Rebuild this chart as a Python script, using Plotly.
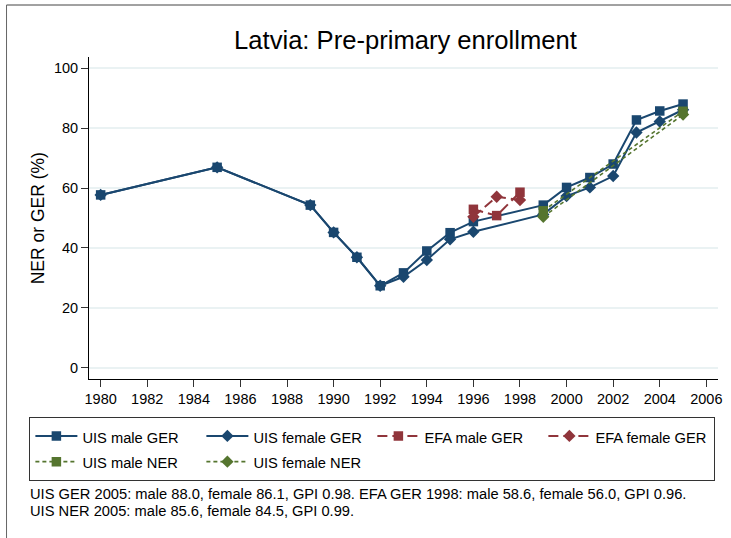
import plotly.graph_objects as go

# ---- data ----
uis_years = [1980, 1985, 1989, 1990, 1991, 1992, 1993, 1994, 1995, 1996,
             1999, 2000, 2001, 2002, 2003, 2004, 2005]
uis_male_ger = [57.7, 66.9, 54.3, 45.2, 36.9, 27.4, 31.7, 39.0, 45.1, 48.8,
                54.3, 60.2, 63.5, 68.0, 82.7, 85.7, 88.0]
uis_female_ger = [57.7, 66.9, 54.3, 45.2, 36.9, 27.4, 30.4, 36.0, 42.9, 45.4,
                  51.2, 57.3, 60.2, 64.0, 78.5, 82.2, 86.1]

efa_years = [1996, 1997, 1998]
efa_male_ger = [52.9, 50.8, 58.6]
efa_female_ger = [50.4, 57.1, 56.0]

ner_years = [1999, 2005]
uis_male_ner = [52.4, 85.6]
uis_female_ner = [50.4, 84.5]

x_ticks = list(range(1980, 2007, 2))
y_ticks = [0, 20, 40, 60, 80, 100]

title_text = "Latvia: Pre-primary enrollment"
y_title = "NER or GER (%)"
note_lines = [
    "UIS GER 2005: male 88.0, female 86.1, GPI 0.98. EFA GER 1998: male 58.6, female 56.0, GPI 0.96.",
    "UIS NER 2005: male 85.6, female 84.5, GPI 0.99.",
]

# ---- styling ----
NAVY = "#1a476f"
MAROON = "#90353b"
GREEN = "#55752f"
FONT = "Liberation Sans, Arial, sans-serif"

W, H = 731, 538
ML, MR, MT, MB = 89, 9, 57, 159
PW = W - ML - MR
PH = H - MT - MB


def px_x(px):
    return (px - ML) / PW


def px_y(py):
    return (H - MB - py) / PH


def lname(s):
    return "<span style='font-size:14.7px'>" + s + "</span>"


fig = go.Figure()

fig.add_trace(go.Scatter(
    x=uis_years, y=uis_male_ger, name=lname("UIS male GER"), mode="lines+markers",
    line=dict(color=NAVY, width=2),
    marker=dict(symbol="square", size=9.5, color=NAVY)))
fig.add_trace(go.Scatter(
    x=uis_years, y=uis_female_ger, name=lname("UIS female GER"), mode="lines+markers",
    line=dict(color=NAVY, width=2),
    marker=dict(symbol="diamond", size=9.5, color=NAVY)))
fig.add_trace(go.Scatter(
    x=efa_years, y=efa_male_ger, name=lname("EFA male GER"), mode="lines+markers",
    line=dict(color=MAROON, width=2, dash="10px,5px"),
    marker=dict(symbol="square", size=9.5, color=MAROON)))
fig.add_trace(go.Scatter(
    x=efa_years, y=efa_female_ger, name=lname("EFA female GER"), mode="lines+markers",
    line=dict(color=MAROON, width=2, dash="10px,5px"),
    marker=dict(symbol="diamond", size=9.5, color=MAROON)))
fig.add_trace(go.Scatter(
    x=ner_years, y=uis_male_ner, name=lname("UIS male NER"), mode="lines+markers",
    line=dict(color=GREEN, width=1.6, dash="4px,3px"),
    marker=dict(symbol="square", size=9.5, color=GREEN)))
fig.add_trace(go.Scatter(
    x=ner_years, y=uis_female_ner, name=lname("UIS female NER"), mode="lines+markers",
    line=dict(color=GREEN, width=1.6, dash="4px,3px"),
    marker=dict(symbol="diamond", size=9.5, color=GREEN)))

annotations = [
    dict(text=y_title, textangle=-90, xref="paper", yref="paper",
         x=px_x(38), y=px_y(218), xanchor="center", yanchor="middle",
         showarrow=False, font=dict(family=FONT, size=17.5, color="#000")),
    dict(text=note_lines[0], xref="paper", yref="paper",
         x=px_x(28), y=px_y(494), xanchor="left", yanchor="middle",
         showarrow=False, font=dict(family=FONT, size=14.7, color="#000")),
    dict(text=note_lines[1], xref="paper", yref="paper",
         x=px_x(28), y=px_y(511), xanchor="left", yanchor="middle",
         showarrow=False, font=dict(family=FONT, size=14.7, color="#000")),
]

shapes = [
    dict(type="line", xref="paper", yref="paper",
         x0=px_x(6), x1=px_x(740), y0=px_y(5), y1=px_y(5),
         line=dict(color="#444", width=1)),
    dict(type="line", xref="paper", yref="paper",
         x0=px_x(6), x1=px_x(6), y0=px_y(5), y1=px_y(545),
         line=dict(color="#666", width=1)),
]

fig.update_layout(
    width=W, height=H,
    margin=dict(l=ML, r=MR, t=MT, b=MB),
    paper_bgcolor="white", plot_bgcolor="white",
    font=dict(family=FONT, color="#000"),
    title=dict(text=title_text, x=px_x(407.5), xanchor="center", xref="paper",
               y=1 - 40 / H, yanchor="middle", yref="container",
               font=dict(family=FONT, size=25.6, color="#000")),
    showlegend=True,
    legend=dict(orientation="h", x=px_x(29), xanchor="left",
                y=px_y(417), yanchor="top",
                bgcolor="white", bordercolor="#333", borderwidth=1,
                font=dict(family=FONT, size=17.5, color="#000"),
                itemwidth=42, entrywidth=114, entrywidthmode="pixels",
                traceorder="normal"),
    annotations=annotations,
    shapes=shapes,
)

fig.update_xaxes(
    range=[1979.5, 2006.5], tickmode="array", tickvals=x_ticks,
    ticktext=[str(v) for v in x_ticks],
    showgrid=False, zeroline=False, showline=True, linecolor="#000", linewidth=1,
    ticks="outside", ticklen=7, tickcolor="#333", tickwidth=1,
    tickfont=dict(family=FONT, size=14.5, color="#000"))
fig.update_yaxes(
    range=[-3.7, 103.7], tickmode="array", tickvals=y_ticks,
    ticktext=[str(v) for v in y_ticks],
    showgrid=True, gridcolor="#eaf2f3", gridwidth=1.5,
    zeroline=False, showline=True, linecolor="#000", linewidth=1,
    ticks="outside", ticklen=7, tickcolor="#333", tickwidth=1,
    tickfont=dict(family=FONT, size=14.5, color="#000"))

fig.write_html(
    "out.html",
    config={"displayModeBar": False},
    post_script="document.body.style.margin='0';document.documentElement.style.overflow='hidden';",
)
